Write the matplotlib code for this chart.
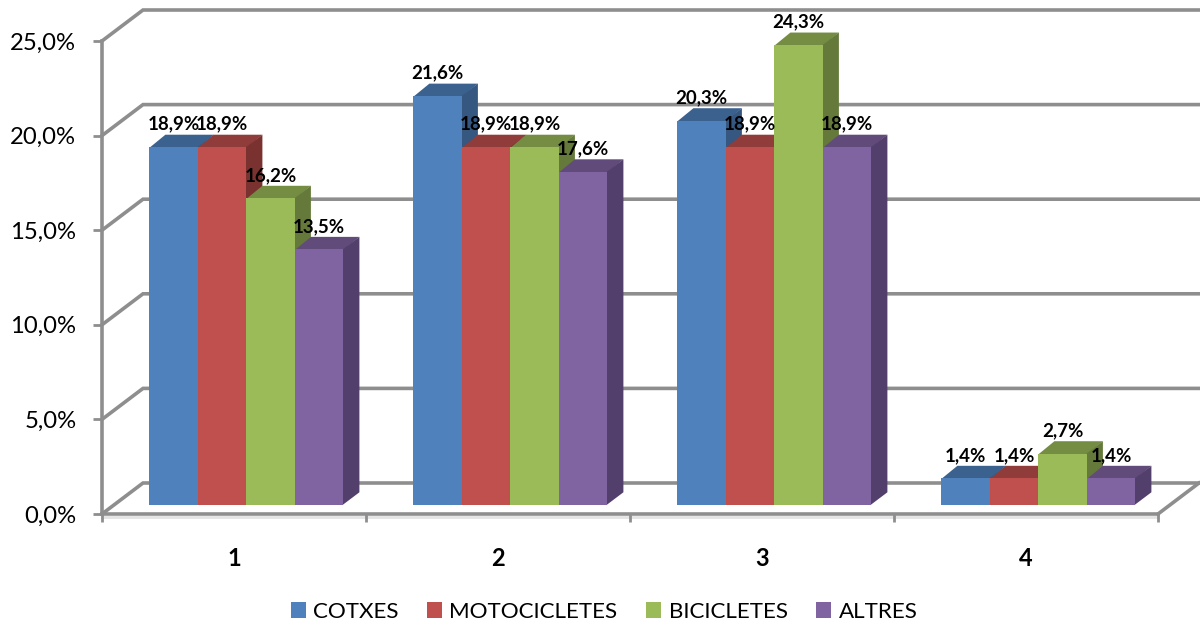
import matplotlib
matplotlib.use("Agg")
import matplotlib.pyplot as plt
from matplotlib.patches import Polygon

plt.rcParams['font.family'] = ['Lato', 'DejaVu Sans']

categories = ['1', '2', '3', '4']
series_names = ['COTXES', 'MOTOCICLETES', 'BICICLETES', 'ALTRES']
cotxes = [18.9, 21.6, 20.3, 1.4]
motocicletes = [18.9, 18.9, 18.9, 1.4]
bicicletes = [16.2, 18.9, 24.3, 2.7]
altres = [13.5, 17.6, 18.9, 1.4]
series_values = [cotxes, motocicletes, bicicletes, altres]
y_ticks = [0, 5, 10, 15, 20, 25]
y_labels = ['0,0%', '5,0%', '10,0%', '15,0%', '20,0%', '25,0%']

front_colors = ['#4F81BD', '#C0504D', '#9BBB59', '#8064A2']
top_colors = ['#3B618F', '#903C3A', '#758D43', '#604B7A']
side_colors = ['#355780', '#7A3230', '#657A3A', '#533F6B']
grid_color = '#8E8E8E'

W, H = 1200, 621
fig = plt.figure(figsize=(W / 100, H / 100), dpi=100, facecolor='white')
ax = fig.add_axes([102 / W, 1 - 514 / H, 1056 / W, 473 / H])
ax.set_xlim(0, 4)
ax.set_ylim(0, 25)
ax.patch.set_alpha(0)

PX = 4 / 1056       # data units per pixel, horizontal
PY = 25 / 473       # data units per pixel, vertical
wall_dx, wall_dy = 41 * PX, 31 * PY
bar_dx, bar_dy = 16 * PX, 12.5 * PY
bar_w = 48.5 * PX
group_off = 47.4 * PX
base = 9.2 * PY
seam = 0.6 * PY     # faces tuck under the front face so no pale seam shows

# walls and gridlines
for v in y_ticks:
    ax.plot([0, wall_dx, 4 + wall_dx], [v, v + wall_dy, v + wall_dy],
            color=grid_color, lw=2.6, clip_on=False, zorder=1,
            solid_joinstyle='miter')
ax.plot([4, 4 + wall_dx], [0, wall_dy], color=grid_color, lw=2.6,
        clip_on=False, zorder=1)

# light shadow below the floor line
ax.axhline(-3 * PY, color='#E4E4E4', lw=2, clip_on=False, zorder=1)

handles = []
for i, (vals, fc, tc, sc, name) in enumerate(
        zip(series_values, front_colors, top_colors, side_colors, series_names)):
    xs = [c + group_off + i * bar_w for c in range(len(categories))]
    z = 3 + i
    bars = ax.bar(xs, vals, width=bar_w, bottom=base, align='edge', color=fc,
                  linewidth=0, zorder=z + 0.5, clip_on=False, label=name)
    handles.append(bars)
    for x, v in zip(xs, vals):
        top = base + v
        x2 = x + bar_w
        ax.add_patch(Polygon([(x, top - seam), (x + bar_dx, top + bar_dy),
                              (x2 + bar_dx, top + bar_dy), (x2, top - seam)],
                             closed=True, fc=tc, ec='none', zorder=z, clip_on=False))
        ax.add_patch(Polygon([(x2 - 0.6 * PX, base), (x2 + bar_dx, base + bar_dy),
                              (x2 + bar_dx, top + bar_dy), (x2 - 0.6 * PX, top)],
                             closed=True, fc=sc, ec='none', zorder=z, clip_on=False))
        ax.text(x + bar_w / 2, top + 23 * PY, f'{v:.1f}%'.replace('.', ','),
                ha='center', va='center', fontsize=13.5, fontweight='bold',
                color='black', zorder=20, clip_on=False)

# axes
for s in ['top', 'right']:
    ax.spines[s].set_visible(False)
for s in ['left', 'bottom']:
    ax.spines[s].set_color(grid_color)
    ax.spines[s].set_linewidth(2.6)
    ax.spines[s].set_zorder(2)
ax.set_yticks(y_ticks, y_labels)
ax.tick_params(axis='y', length=6.5, width=2, color=grid_color, pad=12,
               labelsize=17.2, labelcolor='black')
ax.set_xticks(range(5), [''] * 5)
ax.tick_params(axis='x', which='major', length=6, width=2, color=grid_color)
ax.set_xticks([c + 0.5 for c in range(len(categories))], categories, minor=True)
ax.tick_params(axis='x', which='minor', length=0, pad=23.5, labelsize=17)
for t in ax.get_xticklabels(minor=True):
    t.set_fontweight('bold')

fig.legend(handles=handles, labels=series_names, loc='center',
           bbox_to_anchor=(604 / W, 1 - 612 / H), ncol=4, frameon=False,
           fontsize=16.1, handlelength=0.68, handleheight=0.68,
           handletextpad=0.32, columnspacing=1.28)

fig.savefig('out.png', dpi=100, facecolor='white')
